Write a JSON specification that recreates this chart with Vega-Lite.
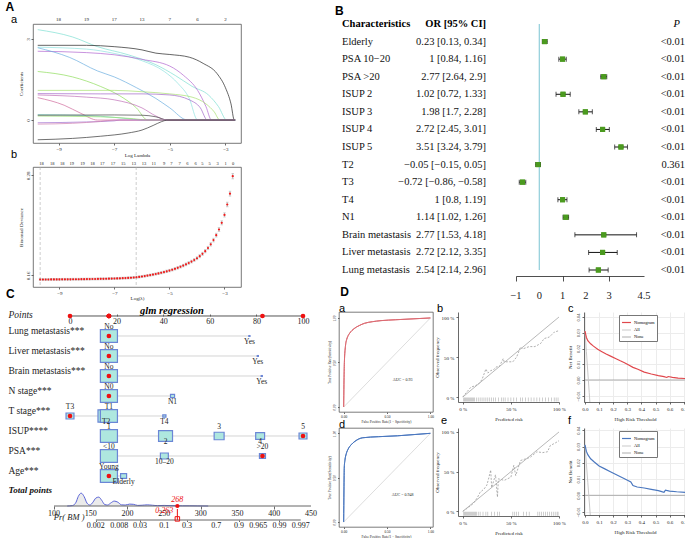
{
"$schema": "https://vega.github.io/schema/vega-lite/v6.json",
"background": "white",
"padding": {"left": 5, "top": 0, "right": 0, "bottom": 0},
"spacing": -17,
"resolve": {"scale": {"color": "independent", "size": "independent", "strokeWidth": "independent"}, "legend": {"color": "independent", "size": "independent", "strokeWidth": "independent"}},
"vconcat": [
{"hconcat": [
 {"vconcat": [
  {"width": 208, "height": 119,
   "view": {"stroke": "#555", "strokeWidth": 0.8},
   "title": {"text": "a", "frame": "group", "dx": -22, "offset": -7.5, "fontSize": 11, "fontWeight": "normal"},
   "layer": [
    {"data": {"name": "lasso"},
     "mark": {"type": "line", "strokeWidth": 0.7, "interpolate": "monotone"},
     "encoding": {
      "x": {"field": "ll", "type": "quantitative", "scale": {"domain": [-9.92, -2.44], "nice": false, "zero": false},
            "axis": {"values": [-9,-8,-7,-6,-5,-4,-3], "labelOverlap": false, "title": "Log Lambda", "labelFontSize": 5, "titleFontSize": 5, "tickSize": 2, "labelPadding": 1, "titlePadding": 1, "domain": false}},
      "y": {"field": "coef", "type": "quantitative", "scale": {"domain": [-0.85, 3.56], "nice": false, "zero": false},
            "axis": {"values": [0,1,2,3], "labelOverlap": false, "title": "Coefficients", "labelFontSize": 5, "titleFontSize": 5, "tickSize": 2, "labelPadding": 1, "titlePadding": 2, "labelAngle": -90, "labelAlign": "center", "labelBaseline": "bottom", "domain": false}},
      "color": {"field": "v", "type": "nominal", "legend": null,
                "scale": {"domain": ["V1","V2","V3","V4","V5","V6","V7","V8","V9","V10","V11","V12","V13","V14","V15","V16"],
                          "range": ["#7ee0d2","#222222","#8fe3e0","#b064d0","#6aaee0","#8edc5a","#a8e070","#a066c8","#c070b8","#d06a9c","#70d0c0","#98e070","#444444","#a070d0","#d080b0","#333333"]}}
     }},
    {"data": {"name": "dfA"},
     "mark": {"type": "text", "baseline": "bottom", "dy": -2, "fontSize": 5, "color": "#222"},
     "encoding": {"x": {"field": "ll", "type": "quantitative"}, "y": {"datum": 3.56}, "text": {"field": "df", "type": "nominal"}}}
   ]},
  {"width": 208, "height": 120,
   "view": {"stroke": "#555", "strokeWidth": 0.8},
   "title": {"text": "b", "frame": "group", "dx": -22, "offset": 1, "fontSize": 11, "fontWeight": "normal"},
   "layer": [
    {"data": {"name": "cv"},
     "mark": {"type": "errorbar", "color": "#bdbdbd", "ticks": {"size": 2.5}},
     "encoding": {
      "x": {"field": "ll", "type": "quantitative", "scale": {"domain": [-9.96, -2.4], "nice": false, "zero": false},
            "axis": {"values": [-9,-8,-7,-6,-5,-4,-3], "labelOverlap": false, "title": "Log(λ)", "labelFontSize": 5, "titleFontSize": 5, "tickSize": 2, "labelPadding": 1, "titlePadding": 0, "domain": false}},
      "y": {"field": "dev", "type": "quantitative", "scale": {"domain": [0.146, 0.29], "nice": false, "zero": false},
            "axis": {"values": [0.16,0.18,0.2,0.22,0.24,0.26,0.28], "labelOverlap": false, "format": ".2f", "title": "Binomial Deviance", "labelFontSize": 5, "titleFontSize": 5, "tickSize": 2, "labelPadding": 1, "titlePadding": 2, "labelAngle": -90, "labelAlign": "center", "labelBaseline": "bottom", "domain": false}},
      "yError": {"field": "se"}}},
    {"data": {"name": "lam"},
     "mark": {"type": "rule", "color": "#aaaaaa", "strokeWidth": 0.6, "strokeDash": [3, 2]},
     "encoding": {"x": {"field": "ll", "type": "quantitative"}}},
    {"data": {"name": "cv"},
     "mark": {"type": "point", "filled": true, "size": 5, "color": "#ee1c1c", "opacity": 1},
     "encoding": {"x": {"field": "ll", "type": "quantitative"}, "y": {"field": "dev", "type": "quantitative"}}},
    {"data": {"name": "dfB"},
     "mark": {"type": "text", "baseline": "bottom", "dy": -1.5, "fontSize": 4.5, "color": "#222"},
     "encoding": {"x": {"field": "ll", "type": "quantitative"}, "y": {"datum": 0.29}, "text": {"field": "df", "type": "nominal"}}}
   ]}
 ], "spacing": 24, "bounds": "flush", "title": {"text": "A", "dx": -5, "offset": -0.5, "fontSize": 12},
 "resolve": {"scale": {"color": "independent"}, "legend": {"color": "independent"}}},
 {"hconcat": [
  {"width": 144, "height": 246,
   "layer": [
    {"data": {"name": "forest"},
     "mark": {"type": "text", "align": "left", "fontSize": 10.5, "color": "#111"},
     "encoding": {
      "x": {"datum": "Characteristics", "type": "nominal", "scale": {"type": "point", "domain": ["Characteristics", "OR [95% CI]"], "padding": 0}, "axis": null},
      "y": {"field": "char", "type": "nominal", "scale": {"type": "point", "padding": 0, "domain": ["header","Elderly","PSA 10−20","PSA >20","ISUP 2","ISUP 3","ISUP 4","ISUP 5","T2","T3","T4","N1","Brain metastasis","Liver metastasis","Lung metastasis"]}, "axis": null},
      "text": {"field": "char"}}},
    {"data": {"name": "forest"},
     "mark": {"type": "text", "align": "right", "fontSize": 10.5, "color": "#111"},
     "encoding": {"x": {"datum": "OR [95% CI]", "type": "nominal"}, "y": {"field": "char", "type": "nominal"}, "text": {"field": "ci"}}},
    {"data": {"values": [{}]},
     "mark": {"type": "text", "align": "left", "fontSize": 10.5, "fontWeight": "bold", "text": "Characteristics", "color": "#000"},
     "encoding": {"x": {"datum": "Characteristics", "type": "nominal"}, "y": {"datum": "header", "type": "nominal"}}},
    {"data": {"values": [{}]},
     "mark": {"type": "text", "align": "right", "fontSize": 10.5, "fontWeight": "bold", "text": "OR [95% CI]", "color": "#000"},
     "encoding": {"x": {"datum": "OR [95% CI]", "type": "nominal"}, "y": {"datum": "header", "type": "nominal"}}}
   ]},
  {"width": 128, "height": 246,
   "layer": [
    {"data": {"name": "forest"},
     "mark": {"type": "point", "shape": "square", "filled": true, "size": 26, "color": "#4b9a1f", "opacity": 1},
     "encoding": {"x": {"field": "or", "type": "quantitative", "scale": {"domain": [-1, 4.5], "nice": false, "zero": false},
       "axis": {"values": [-1,0,1,2,3,4.5], "labels": false, "title": null, "tickSize": 5, "offset": 6, "domainColor": "#222", "tickColor": "#222"}},
      "y": {"field": "char", "type": "nominal", "scale": {"type": "point", "padding": 0, "domain": ["header","Elderly","PSA 10−20","PSA >20","ISUP 2","ISUP 3","ISUP 4","ISUP 5","T2","T3","T4","N1","Brain metastasis","Liver metastasis","Lung metastasis"]}, "axis": null}}},
    {"data": {"values": [{}]},
     "mark": {"type": "rule", "color": "#86c8d6", "strokeWidth": 1.1},
     "encoding": {"x": {"datum": 0, "type": "quantitative"}}},
    {"data": {"name": "forest"},
     "mark": {"type": "rule", "color": "#111", "strokeWidth": 1},
     "encoding": {"x": {"field": "lo", "type": "quantitative"}, "x2": {"field": "hi"}, "y": {"field": "char", "type": "nominal"}}},
    {"data": {"name": "forest"},
     "mark": {"type": "tick", "orient": "vertical", "color": "#111", "size": 5, "thickness": 1},
     "encoding": {"x": {"field": "lo", "type": "quantitative"}, "y": {"field": "char", "type": "nominal"}}},
    {"data": {"name": "forest"},
     "mark": {"type": "tick", "orient": "vertical", "color": "#111", "size": 5, "thickness": 1},
     "encoding": {"x": {"field": "hi", "type": "quantitative"}, "y": {"field": "char", "type": "nominal"}}},
    {"data": {"name": "forest"},
     "mark": {"type": "point", "shape": "square", "filled": true, "size": 26, "color": "#4b9a1f", "opacity": 1},
     "encoding": {"x": {"field": "or", "type": "quantitative"}, "y": {"field": "char", "type": "nominal"}}},
    {"data": {"name": "fticks"},
     "mark": {"type": "text", "baseline": "middle", "dy": 26, "fontSize": 10.5, "color": "#222"},
     "encoding": {"x": {"field": "v", "type": "quantitative"}, "y": {"datum": "Lung metastasis", "type": "nominal"}, "text": {"field": "label"}}}
   ]},
  {"width": 11, "height": 246,
   "layer": [
    {"data": {"name": "forest"},
     "mark": {"type": "text", "align": "right", "fontSize": 10.5, "color": "#111"},
     "encoding": {
      "x": {"datum": "P", "type": "nominal", "scale": {"type": "point", "domain": ["P"], "padding": 0, "align": 1}, "axis": null},
      "y": {"field": "char", "type": "nominal", "scale": {"type": "point", "padding": 0, "domain": ["header","Elderly","PSA 10−20","PSA >20","ISUP 2","ISUP 3","ISUP 4","ISUP 5","T2","T3","T4","N1","Brain metastasis","Liver metastasis","Lung metastasis"]}, "axis": null},
      "text": {"field": "p"}}},
    {"data": {"values": [{}]},
     "mark": {"type": "text", "align": "right", "fontSize": 10.5, "fontStyle": "italic", "text": "P", "dx": -5, "color": "#000"},
     "encoding": {"x": {"datum": "P", "type": "nominal"}, "y": {"datum": "header", "type": "nominal"}}}
   ]}
 ], "spacing": 30, "bounds": "flush", "title": {"text": "B", "dx": -7, "offset": 1.5, "fontSize": 12}}
], "spacing": 93,
 "resolve": {"scale": {"color": "independent"}, "legend": {"color": "independent"}}},
{"hconcat": [
 {"vconcat": [
  {"width": 278, "height": 174,
   "title": {"text": "glm regression", "anchor": "middle", "frame": "group", "font": "Liberation Serif", "fontStyle": "italic", "fontWeight": "bold", "fontSize": 10.5, "offset": -7},
   "layer": [
    {"data": {"name": "nomo"},
     "transform": [{"aggregate": [{"op": "min", "field": "pts", "as": "lo"}, {"op": "max", "field": "pts", "as": "hi"}], "groupby": ["var"]}],
     "mark": {"type": "rule", "color": "#d4d4d4", "strokeWidth": 1},
     "encoding": {
      "x": {"field": "lo", "type": "quantitative", "scale": {"domain": [-15.88, 103.43], "nice": false, "zero": false},
            "axis": {"orient": "top", "values": [0,20,40,60,80,100], "labelOverlap": false, "offset": -4, "domain": false, "tickSize": 2, "labelBaseline": "top", "labelPadding": -3, "labelFontSize": 8, "title": null}},
      "x2": {"field": "hi"},
      "y": {"field": "var", "type": "nominal",
            "scale": {"type": "point", "padding": 0.35, "align": 0.2857, "domain": ["Points","Lung metastasis***","Liver metastasis***","Brain metastasis***","N stage***","T stage***","ISUP****","PSA***","Age***"]},
            "axis": {"title": null, "domain": false, "ticks": false, "tickSize": 0, "labelOverlap": false, "labelAlign": "left", "labelPadding": 25, "labelFontSize": 9.5, "labelBaseline": "middle", "labelColor": "#222",
                     "labelOffset": {"condition": {"test": "datum.value === 'Points'", "value": -1}, "value": -5},
                     "labelFontStyle": {"condition": {"test": "datum.value === 'Points'", "value": "italic"}, "value": "normal"}}}}},
    {"data": {"values": [{}]},
     "mark": {"type": "rule", "color": "#555", "strokeWidth": 1},
     "encoding": {"x": {"datum": 0, "type": "quantitative"}, "x2": {"datum": 100}, "y": {"datum": "Points", "type": "nominal"}}},
    {"data": {"name": "nomo"},
     "mark": {"type": "point", "shape": "M-1.15,-0.87H1.15V0.87H-1.15Z", "filled": true, "fill": "#aee7df", "stroke": "#6b86d6", "strokeWidth": 1.2, "opacity": 1},
     "encoding": {"x": {"field": "pts", "type": "quantitative"}, "y": {"field": "var", "type": "nominal"},
      "size": {"field": "freq", "type": "quantitative", "scale": {"domain": [0, 1], "range": [0, 250]}, "legend": null}}},
    {"data": {"name": "nomo"}, "transform": [{"filter": "datum.sel"}],
     "mark": {"type": "point", "filled": true, "color": "#ee1111", "size": 22, "opacity": 1},
     "encoding": {"x": {"field": "pts", "type": "quantitative"}, "y": {"field": "var", "type": "nominal"}}},
    {"data": {"name": "nomo"}, "transform": [{"filter": "datum.sel"}],
     "mark": {"type": "point", "filled": true, "color": "#ee1111", "size": 22, "opacity": 1},
     "encoding": {"x": {"field": "pts", "type": "quantitative"}, "y": {"datum": "Points", "type": "nominal"}}},
    {"data": {"name": "nomo"}, "transform": [{"filter": "datum.side === 'above'"}],
     "mark": {"type": "text", "baseline": "middle", "dy": -9, "fontSize": 7.5, "color": "#222"},
     "encoding": {"x": {"field": "pts", "type": "quantitative"}, "y": {"field": "var", "type": "nominal"}, "text": {"field": "level"}}},
    {"data": {"name": "nomo"}, "transform": [{"filter": "datum.side === 'below'"}],
     "mark": {"type": "text", "baseline": "middle", "dy": 6, "fontSize": 7.5, "color": "#222"},
     "encoding": {"x": {"field": "pts", "type": "quantitative"}, "y": {"field": "var", "type": "nominal"}, "text": {"field": "level"}}}
   ]},
  {"width": 278, "height": 17,
   "layer": [
    {"data": {"name": "dens"},
     "mark": {"type": "area", "color": "#e3e3e3", "interpolate": "monotone", "line": {"color": "#5a64d8", "strokeWidth": 1}},
     "encoding": {
      "x": {"field": "total", "type": "quantitative", "scale": {"domain": [71.4, 450], "nice": false, "zero": false},
            "axis": {"values": [100,150,200,250,300,350,400,450], "labels": false, "title": null, "tickSize": 3, "domain": false}},
      "y": {"field": "dens", "type": "quantitative", "scale": {"domain": [0, 0.9], "nice": false},
            "axis": {"values": [0.9], "labelExpr": "'Total points'", "title": null, "domain": false, "ticks": false, "tickSize": 0, "labelAlign": "left", "labelPadding": 25, "labelFontSize": 9, "labelFontWeight": "bold", "labelFontStyle": "italic", "labelBaseline": "middle", "labelColor": "#111"}}}},
    {"data": {"values": [{}]},
     "mark": {"type": "rule", "color": "#666", "strokeWidth": 1},
     "encoding": {"x": {"datum": 100, "type": "quantitative"}, "x2": {"datum": 450}, "y": {"datum": 0, "type": "quantitative"}}},
    {"data": {"name": "tticks"},
     "mark": {"type": "text", "baseline": "top", "dy": 3.5, "fontSize": 8, "color": "#222"},
     "encoding": {"x": {"field": "total", "type": "quantitative"}, "y": {"datum": 0, "type": "quantitative"}, "text": {"field": "total", "type": "nominal"}}},
    {"data": {"name": "pred"},
     "mark": {"type": "point", "filled": true, "color": "#ee1111", "size": 18, "opacity": 1},
     "encoding": {"x": {"field": "total", "type": "quantitative"}, "y": {"datum": 0}}},
    {"data": {"name": "pred"},
     "mark": {"type": "text", "color": "#ee1111", "fontStyle": "italic", "fontSize": 8, "baseline": "bottom", "dy": -2},
     "encoding": {"x": {"field": "total", "type": "quantitative"}, "y": {"datum": 0}, "text": {"field": "total", "type": "nominal"}}}
   ]},
  {"width": 278, "height": 11,
   "layer": [
    {"data": {"values": [{}]},
     "mark": {"type": "rule", "color": "#666", "strokeWidth": 1},
     "encoding": {
      "x": {"datum": 157, "type": "quantitative", "scale": {"domain": [71.4, 450], "nice": false, "zero": false},
            "axis": {"values": [157,189,217,250,281,321,352,378,407,436], "labels": false, "title": null, "domain": false, "tickSize": 1.5}},
      "x2": {"datum": 436},
      "y": {"datum": 0, "type": "quantitative", "scale": {"domain": [0, 1], "nice": false},
            "axis": {"values": [0], "labelExpr": "'Pr( BM )'", "title": null, "domain": false, "ticks": false, "tickSize": 0, "labelAlign": "right", "labelPadding": -51, "labelFontSize": 8.5, "labelFontStyle": "italic", "labelBaseline": "middle", "labelOffset": -4, "labelColor": "#222"}}}},
    {"data": {"name": "pticks"},
     "mark": {"type": "text", "baseline": "top", "dy": 1.5, "fontSize": 8, "color": "#222"},
     "encoding": {"x": {"field": "total", "type": "quantitative"}, "y": {"datum": 0, "type": "quantitative"}, "text": {"field": "label"}}},
    {"data": {"name": "pred"},
     "mark": {"type": "rule", "color": "#ee1111", "strokeWidth": 1},
     "encoding": {"x": {"field": "total", "type": "quantitative"}}},
    {"data": {"name": "pred"},
     "mark": {"type": "point", "shape": "square", "filled": false, "color": "#ee1111", "size": 20, "strokeWidth": 1, "opacity": 1},
     "encoding": {"x": {"field": "total", "type": "quantitative"}, "y": {"datum": 0.1}}},
    {"data": {"name": "pred"},
     "mark": {"type": "text", "color": "#ee1111", "fontStyle": "italic", "fontSize": 8, "align": "right", "dx": -4, "baseline": "middle"},
     "encoding": {"x": {"field": "total", "type": "quantitative"}, "y": {"datum": 0.85}, "text": {"field": "prob", "type": "nominal"}}}
   ]}
 ], "spacing": 3, "bounds": "flush", "title": {"text": "C", "dx": -2, "offset": 5, "fontSize": 12},
 "resolve": {"scale": {"size": "independent"}, "legend": {"size": "independent"}}},
 {"concat": [
  {"width": 94, "height": 100,
   "view": {"stroke": "#444", "strokeWidth": 0.7},
   "title": {"text": "a", "frame": "group", "fontSize": 11, "fontWeight": "normal", "dx": 0, "offset": -2},
   "layer": [
    {"data": {"name": "roc"}, "transform": [{"filter": "datum.set === 'train'"}],
     "mark": {"type": "line", "color": "#dc6a72", "strokeWidth": 1, "interpolate": "monotone"},
     "encoding": {
      "x": {"field": "fpr", "type": "quantitative", "scale": {"domain": [-0.054, 1.03], "nice": false, "zero": false},
            "axis": {"values": [0,0.25,0.5,0.75,1], "labelOverlap": false, "format": ".2f", "title": "False Positive Rate(1 − Specificity)", "labelFontSize": 3.5, "titleFontSize": 3.5, "tickSize": 1.5, "labelPadding": 1, "titlePadding": 1, "domain": false}},
      "y": {"field": "tpr", "type": "quantitative", "scale": {"domain": [-0.056, 1.067], "nice": false, "zero": false},
            "axis": {"values": [0,0.25,0.5,0.75,1], "labelOverlap": false, "format": ".2f", "title": "True Positive Rate(Sensitivity)", "labelFontSize": 3.5, "titleFontSize": 3.5, "tickSize": 1.5, "labelPadding": 1, "titlePadding": 1, "domain": false, "labelAngle": -90, "labelAlign": "center", "labelBaseline": "bottom"}}}},
    {"data": {"values": [{}]},
     "mark": {"type": "rule", "color": "#cfcfcf", "strokeWidth": 0.7},
     "encoding": {"x": {"datum": 0, "type": "quantitative"}, "y": {"datum": 0, "type": "quantitative"}, "x2": {"datum": 1}, "y2": {"datum": 1}}},
    {"data": {"name": "roc"}, "transform": [{"filter": "datum.set === 'train'"}],
     "mark": {"type": "line", "color": "#dc6a72", "strokeWidth": 1, "interpolate": "monotone"},
     "encoding": {"x": {"field": "fpr", "type": "quantitative"}, "y": {"field": "tpr", "type": "quantitative"}}},
    {"data": {"name": "auc"}, "transform": [{"filter": "datum.set === 'train'"}],
     "mark": {"type": "text", "fontSize": 4, "color": "#222"},
     "encoding": {"x": {"datum": 0.68}, "y": {"datum": 0.3}, "text": {"field": "label"}}}
   ]},
  {"width": 101, "height": 90,
   "title": {"text": "b", "frame": "group", "fontSize": 11, "fontWeight": "normal", "dx": -21, "offset": -2},
   "layer": [
    {"data": {"name": "cal"}, "transform": [{"filter": "datum.set === 'train'"}],
     "mark": {"type": "line", "color": "#9a9a9a", "strokeWidth": 0.8, "strokeDash": [2, 1.5]},
     "encoding": {
      "x": {"field": "pred", "type": "quantitative", "scale": {"domain": [-0.05, 1], "nice": false, "zero": false},
            "axis": {"values": [0,0.25,0.5,0.75,1], "labelOverlap": false, "labelExpr": "format(datum.value*100, 'd') + ' %'", "title": "Predicted risk", "labelFontSize": 5, "titleFontSize": 5, "tickSize": 2, "labelPadding": 2, "titlePadding": 5}},
      "y": {"field": "obs", "type": "quantitative", "scale": {"domain": [-0.0625, 1.0625], "nice": false, "zero": false},
            "axis": {"values": [0,0.25,0.5,0.75,1], "labelOverlap": false, "labelExpr": "format(datum.value*100, 'd') + ' %'", "title": "Observed frequency", "labelFontSize": 5, "titleFontSize": 5, "tickSize": 2, "labelPadding": 2, "titlePadding": 2}}}},
    {"data": {"values": [{}]},
     "mark": {"type": "rule", "color": "#a6a6a6", "strokeWidth": 0.8},
     "encoding": {"x": {"datum": 0, "type": "quantitative"}, "y": {"datum": 0, "type": "quantitative"}, "x2": {"datum": 1}, "y2": {"datum": 1}}},
    {"data": {"name": "rug"}, "transform": [{"filter": "datum.set === 'train'"}],
     "mark": {"type": "tick", "orient": "vertical", "color": "#8a8a8a", "size": 4, "thickness": 0.6},
     "encoding": {"x": {"field": "pred", "type": "quantitative"}, "y": {"datum": -0.03}}}
   ]},
  {"width": 102, "height": 90,
   "title": {"text": "c", "frame": "group", "fontSize": 11, "fontWeight": "normal", "dx": -16, "offset": -2},
   "layer": [
    {"data": {"name": "dca"}, "transform": [{"filter": "datum.set === 'train'"}],
     "mark": {"type": "line", "clip": true},
     "encoding": {
      "x": {"field": "thr", "type": "quantitative", "scale": {"domain": [-0.007, 0.716], "nice": false, "zero": false},
            "axis": {"values": [0,0.1,0.2,0.3,0.4,0.5,0.6,0.7], "labelOverlap": false, "format": ".1f", "title": "High Risk Threshold", "labelFontSize": 5, "titleFontSize": 5, "tickSize": 2, "labelPadding": 2, "titlePadding": 5, "grid": true, "gridColor": "#ececec"}},
      "y": {"field": "nb", "type": "quantitative", "scale": {"domain": [-0.014, 0.0432], "nice": false, "zero": false},
            "axis": {"values": [-0.01,0,0.01,0.02,0.03,0.04], "labelOverlap": false, "format": ".2f", "title": "Net Benefit", "labelFontSize": 4.5, "titleFontSize": 5, "tickSize": 2, "labelPadding": 2, "titlePadding": 3, "labelAngle": -90, "labelAlign": "center", "labelBaseline": "bottom", "grid": true, "gridColor": "#ececec"}},
      "color": {"field": "curve", "type": "nominal", "scale": {"domain": ["Nomogram","All","None"], "range": ["#e0474c","#c9c9c9","#9a9a9a"]},
                "legend": {"title": null, "orient": "none", "legendX": 35, "legendY": 3, "labelFontSize": 4.5, "symbolType": "stroke", "symbolSize": 80, "symbolStrokeWidth": 1, "strokeColor": "#777", "fillColor": "#fff", "padding": 2, "rowPadding": 0, "labelOffset": 2}},
      "strokeWidth": {"field": "curve", "type": "nominal", "scale": {"domain": ["Nomogram","All","None"], "range": [1.2, 0.8, 1.5]}, "legend": null}
     }}
   ]},
  {"width": 94, "height": 99,
   "view": {"stroke": "#444", "strokeWidth": 0.7},
   "title": {"text": "d", "frame": "group", "fontSize": 11, "fontWeight": "normal", "dx": 0, "offset": -2},
   "layer": [
    {"data": {"name": "roc"}, "transform": [{"filter": "datum.set === 'valid'"}],
     "mark": {"type": "line", "color": "#4a77bf", "strokeWidth": 1, "interpolate": "monotone"},
     "encoding": {
      "x": {"field": "fpr", "type": "quantitative", "scale": {"domain": [-0.054, 1.03], "nice": false, "zero": false},
            "axis": {"values": [0,0.25,0.5,0.75,1], "labelOverlap": false, "format": ".2f", "title": "False Positive Rate(1 − Specificity)", "labelFontSize": 3.5, "titleFontSize": 3.5, "tickSize": 1.5, "labelPadding": 1, "titlePadding": 1, "domain": false}},
      "y": {"field": "tpr", "type": "quantitative", "scale": {"domain": [-0.056, 1.06], "nice": false, "zero": false},
            "axis": {"values": [0,0.25,0.5,0.75,1], "labelOverlap": false, "format": ".2f", "title": "True Positive Rate(Sensitivity)", "labelFontSize": 3.5, "titleFontSize": 3.5, "tickSize": 1.5, "labelPadding": 1, "titlePadding": 1, "domain": false, "labelAngle": -90, "labelAlign": "center", "labelBaseline": "bottom"}}}},
    {"data": {"values": [{}]},
     "mark": {"type": "rule", "color": "#cfcfcf", "strokeWidth": 0.7},
     "encoding": {"x": {"datum": 0, "type": "quantitative"}, "y": {"datum": 0, "type": "quantitative"}, "x2": {"datum": 1}, "y2": {"datum": 1}}},
    {"data": {"name": "roc"}, "transform": [{"filter": "datum.set === 'valid'"}],
     "mark": {"type": "line", "color": "#4a77bf", "strokeWidth": 1, "interpolate": "monotone"},
     "encoding": {"x": {"field": "fpr", "type": "quantitative"}, "y": {"field": "tpr", "type": "quantitative"}}},
    {"data": {"name": "auc"}, "transform": [{"filter": "datum.set === 'valid'"}],
     "mark": {"type": "text", "fontSize": 4, "color": "#222"},
     "encoding": {"x": {"datum": 0.68}, "y": {"datum": 0.3}, "text": {"field": "label"}}}
   ]},
  {"width": 101, "height": 88,
   "title": {"text": "e", "frame": "group", "fontSize": 11, "fontWeight": "normal", "dx": -17, "offset": 2},
   "layer": [
    {"data": {"name": "cal"}, "transform": [{"filter": "datum.set === 'valid'"}],
     "mark": {"type": "line", "color": "#9a9a9a", "strokeWidth": 0.8, "strokeDash": [2, 1.5]},
     "encoding": {
      "x": {"field": "pred", "type": "quantitative", "scale": {"domain": [-0.05, 1], "nice": false, "zero": false},
            "axis": {"values": [0,0.25,0.5,0.75,1], "labelOverlap": false, "labelExpr": "format(datum.value*100, 'd') + ' %'", "title": "Predicted risk", "labelFontSize": 5, "titleFontSize": 5, "tickSize": 2, "labelPadding": 2, "titlePadding": 5}},
      "y": {"field": "obs", "type": "quantitative", "scale": {"domain": [-0.059, 1.05], "nice": false, "zero": false},
            "axis": {"values": [0,0.25,0.5,0.75,1], "labelOverlap": false, "labelExpr": "format(datum.value*100, 'd') + ' %'", "title": "Observed frequency", "labelFontSize": 5, "titleFontSize": 5, "tickSize": 2, "labelPadding": 2, "titlePadding": 2}}}},
    {"data": {"values": [{}]},
     "mark": {"type": "rule", "color": "#a6a6a6", "strokeWidth": 0.8},
     "encoding": {"x": {"datum": 0, "type": "quantitative"}, "y": {"datum": 0, "type": "quantitative"}, "x2": {"datum": 1}, "y2": {"datum": 1}}},
    {"data": {"name": "rug"}, "transform": [{"filter": "datum.set === 'valid'"}],
     "mark": {"type": "tick", "orient": "vertical", "color": "#8a8a8a", "size": 4, "thickness": 0.6},
     "encoding": {"x": {"field": "pred", "type": "quantitative"}, "y": {"datum": -0.03}}}
   ]},
  {"width": 102, "height": 87,
   "title": {"text": "f", "frame": "group", "fontSize": 11, "fontWeight": "normal", "dx": -16, "offset": 0},
   "layer": [
    {"data": {"name": "dca"}, "transform": [{"filter": "datum.set === 'valid'"}],
     "mark": {"type": "line", "clip": true},
     "encoding": {
      "x": {"field": "thr", "type": "quantitative", "scale": {"domain": [-0.007, 0.716], "nice": false, "zero": false},
            "axis": {"values": [0,0.1,0.2,0.3,0.4,0.5,0.6,0.7], "labelOverlap": false, "format": ".1f", "title": "High Risk Threshold", "labelFontSize": 5, "titleFontSize": 5, "tickSize": 2, "labelPadding": 2, "titlePadding": 5, "grid": true, "gridColor": "#ececec"}},
      "y": {"field": "nb", "type": "quantitative", "scale": {"domain": [-0.0121, 0.0414], "nice": false, "zero": false},
            "axis": {"values": [-0.01,0,0.01,0.02,0.03,0.04], "labelOverlap": false, "format": ".2f", "title": "Net Benefit", "labelFontSize": 4.5, "titleFontSize": 5, "tickSize": 2, "labelPadding": 2, "titlePadding": 3, "labelAngle": -90, "labelAlign": "center", "labelBaseline": "bottom", "grid": true, "gridColor": "#ececec"}},
      "color": {"field": "curve", "type": "nominal", "scale": {"domain": ["Nomogram","All","None"], "range": ["#4a77bf","#c9c9c9","#9a9a9a"]},
                "legend": {"title": null, "orient": "none", "legendX": 35, "legendY": 3, "labelFontSize": 4.5, "symbolType": "stroke", "symbolSize": 80, "symbolStrokeWidth": 1, "strokeColor": "#777", "fillColor": "#fff", "padding": 2, "rowPadding": 0, "labelOffset": 2}},
      "strokeWidth": {"field": "curve", "type": "nominal", "scale": {"domain": ["Nomogram","All","None"], "range": [1.2, 0.8, 1.5]}, "legend": null}
     }}
   ]}
 ], "columns": 3, "bounds": "flush", "align": "each", "spacing": {"row": 16, "column": 25}, "title": {"text": "D", "dx": 13, "offset": 4, "fontSize": 12},
 "resolve": {"scale": {"color": "independent", "strokeWidth": "independent"}, "legend": {"color": "independent", "strokeWidth": "independent"}}}
], "spacing": 10,
 "resolve": {"scale": {"color": "independent", "size": "independent", "strokeWidth": "independent"}, "legend": {"color": "independent", "size": "independent", "strokeWidth": "independent"}}}
],
"datasets": {
 "lasso": [
  {"v":"V1","ll":-9.75,"coef":3.35},{"v":"V1","ll":-8.5,"coef":3.08},{"v":"V1","ll":-7.6,"coef":2.72},{"v":"V1","ll":-6.5,"coef":2.42},{"v":"V1","ll":-5.5,"coef":2.05},{"v":"V1","ll":-4.8,"coef":1.65},{"v":"V1","ll":-4.2,"coef":1.25},{"v":"V1","ll":-3.6,"coef":0.92},{"v":"V1","ll":-3.25,"coef":0.5},{"v":"V1","ll":-2.95,"coef":0},{"v":"V1","ll":-2.65,"coef":0},
  {"v":"V2","ll":-9.75,"coef":2.77},{"v":"V2","ll":-8,"coef":2.77},{"v":"V2","ll":-7,"coef":2.72},{"v":"V2","ll":-6,"coef":2.6},{"v":"V2","ll":-5.5,"coef":2.48},{"v":"V2","ll":-5,"coef":2.43},{"v":"V2","ll":-4.3,"coef":2.33},{"v":"V2","ll":-3.8,"coef":2.1},{"v":"V2","ll":-3.3,"coef":1.72},{"v":"V2","ll":-3,"coef":1.2},{"v":"V2","ll":-2.8,"coef":0.6},{"v":"V2","ll":-2.68,"coef":0},{"v":"V2","ll":-2.65,"coef":0},
  {"v":"V3","ll":-9.75,"coef":2.7},{"v":"V3","ll":-8,"coef":2.63},{"v":"V3","ll":-7,"coef":2.47},{"v":"V3","ll":-6,"coef":2.2},{"v":"V3","ll":-5.2,"coef":1.8},{"v":"V3","ll":-4.7,"coef":1.35},{"v":"V3","ll":-4.3,"coef":0.8},{"v":"V3","ll":-4,"coef":0},{"v":"V3","ll":-2.65,"coef":0},
  {"v":"V4","ll":-9.75,"coef":2.55},{"v":"V4","ll":-8,"coef":2.5},{"v":"V4","ll":-7,"coef":2.42},{"v":"V4","ll":-6,"coef":2.25},{"v":"V4","ll":-5,"coef":2.0},{"v":"V4","ll":-4.5,"coef":1.65},{"v":"V4","ll":-4,"coef":1.1},{"v":"V4","ll":-3.7,"coef":0.5},{"v":"V4","ll":-3.5,"coef":0},{"v":"V4","ll":-2.65,"coef":0},
  {"v":"V5","ll":-9.75,"coef":2.68},{"v":"V5","ll":-8.6,"coef":2.32},{"v":"V5","ll":-7.6,"coef":1.82},{"v":"V5","ll":-7,"coef":1.6},{"v":"V5","ll":-6.2,"coef":1.2},{"v":"V5","ll":-5.5,"coef":0.8},{"v":"V5","ll":-5,"coef":0.45},{"v":"V5","ll":-4.36,"coef":0},{"v":"V5","ll":-2.65,"coef":0},
  {"v":"V6","ll":-9.75,"coef":1.8},{"v":"V6","ll":-8.5,"coef":1.6},{"v":"V6","ll":-7.5,"coef":1.25},{"v":"V6","ll":-6.8,"coef":0.9},{"v":"V6","ll":-6.2,"coef":0.45},{"v":"V6","ll":-5.8,"coef":0},{"v":"V6","ll":-2.65,"coef":0},
  {"v":"V7","ll":-9.75,"coef":1.1},{"v":"V7","ll":-7,"coef":1.1},{"v":"V7","ll":-6,"coef":1.05},{"v":"V7","ll":-5,"coef":0.97},{"v":"V7","ll":-4.2,"coef":0.85},{"v":"V7","ll":-3.7,"coef":0.6},{"v":"V7","ll":-3.4,"coef":0.3},{"v":"V7","ll":-3.2,"coef":0},{"v":"V7","ll":-2.65,"coef":0},
  {"v":"V8","ll":-9.75,"coef":0.98},{"v":"V8","ll":-7.5,"coef":0.97},{"v":"V8","ll":-6,"coef":0.97},{"v":"V8","ll":-5,"coef":0.93},{"v":"V8","ll":-4.3,"coef":0.75},{"v":"V8","ll":-3.9,"coef":0.45},{"v":"V8","ll":-3.65,"coef":0},{"v":"V8","ll":-2.65,"coef":0},
  {"v":"V9","ll":-9.75,"coef":0.93},{"v":"V9","ll":-8,"coef":0.85},{"v":"V9","ll":-7,"coef":0.75},{"v":"V9","ll":-6,"coef":0.45},{"v":"V9","ll":-5.5,"coef":0.15},{"v":"V9","ll":-5.1,"coef":0},{"v":"V9","ll":-2.65,"coef":0},
  {"v":"V10","ll":-9.75,"coef":0.83},{"v":"V10","ll":-8.8,"coef":0.55},{"v":"V10","ll":-8.2,"coef":0.25},{"v":"V10","ll":-7.6,"coef":0},{"v":"V10","ll":-2.65,"coef":0},
  {"v":"V11","ll":-9.75,"coef":0.2},{"v":"V11","ll":-8,"coef":0.17},{"v":"V11","ll":-7,"coef":0.1},{"v":"V11","ll":-6.3,"coef":0.03},{"v":"V11","ll":-6,"coef":0},{"v":"V11","ll":-2.65,"coef":0},
  {"v":"V12","ll":-9.75,"coef":0.15},{"v":"V12","ll":-7.5,"coef":0.12},{"v":"V12","ll":-6.3,"coef":0.05},{"v":"V12","ll":-5.8,"coef":0},{"v":"V12","ll":-2.65,"coef":0},
  {"v":"V13","ll":-9.75,"coef":0.18},{"v":"V13","ll":-7,"coef":0.19},{"v":"V13","ll":-6,"coef":0.18},{"v":"V13","ll":-5.5,"coef":0.12},{"v":"V13","ll":-5.07,"coef":0},{"v":"V13","ll":-2.65,"coef":0},
  {"v":"V14","ll":-9.75,"coef":-0.1},{"v":"V14","ll":-8,"coef":-0.07},{"v":"V14","ll":-7,"coef":-0.03},{"v":"V14","ll":-6.8,"coef":0},{"v":"V14","ll":-2.65,"coef":0},
  {"v":"V15","ll":-9.75,"coef":-0.15},{"v":"V15","ll":-8.5,"coef":-0.12},{"v":"V15","ll":-7.5,"coef":-0.05},{"v":"V15","ll":-7,"coef":0},{"v":"V15","ll":-2.65,"coef":0},
  {"v":"V16","ll":-9.75,"coef":-0.73},{"v":"V16","ll":-8.5,"coef":-0.68},{"v":"V16","ll":-7.5,"coef":-0.6},{"v":"V16","ll":-6.5,"coef":-0.48},{"v":"V16","ll":-6,"coef":-0.37},{"v":"V16","ll":-5.6,"coef":-0.2},{"v":"V16","ll":-5.3,"coef":-0.06},{"v":"V16","ll":-5.07,"coef":0},{"v":"V16","ll":-2.65,"coef":0}
 ],
 "dfA": [{"ll":-9,"df":18},{"ll":-8,"df":19},{"ll":-7,"df":17},{"ll":-6,"df":13},{"ll":-5,"df":7},{"ll":-4,"df":6},{"ll":-3,"df":2}],
 "lam": [{"which":"lambda.min","ll":-9.7},{"which":"lambda.1se","ll":-6.21}],
 "dfB": [{"ll":-9.65,"df":18},{"ll":-9.26,"df":18},{"ll":-8.9,"df":18},{"ll":-8.55,"df":19},{"ll":-8.16,"df":19},{"ll":-7.8,"df":18},{"ll":-7.44,"df":17},{"ll":-7.05,"df":17},{"ll":-6.68,"df":15},{"ll":-6.3,"df":13},{"ll":-5.93,"df":13},{"ll":-5.57,"df":11},{"ll":-5.19,"df":9},{"ll":-4.93,"df":7},{"ll":-4.63,"df":7},{"ll":-4.35,"df":6},{"ll":-4.05,"df":6},{"ll":-3.8,"df":5},{"ll":-3.54,"df":5},{"ll":-3.25,"df":3},{"ll":-2.96,"df":1},{"ll":-2.69,"df":0}],
 "cv": [
  {"ll":-9.7,"dev":0.1550,"se":0.0011},{"ll":-9.6,"dev":0.1550,"se":0.0011},{"ll":-9.5,"dev":0.1550,"se":0.0011},{"ll":-9.4,"dev":0.1550,"se":0.0011},{"ll":-9.3,"dev":0.1551,"se":0.0011},{"ll":-9.2,"dev":0.1551,"se":0.0011},{"ll":-9.1,"dev":0.1551,"se":0.0011},{"ll":-9.0,"dev":0.1551,"se":0.0011},{"ll":-8.9,"dev":0.1552,"se":0.0011},{"ll":-8.8,"dev":0.1552,"se":0.0011},
  {"ll":-8.7,"dev":0.1552,"se":0.0011},{"ll":-8.6,"dev":0.1552,"se":0.0011},{"ll":-8.5,"dev":0.1553,"se":0.0011},{"ll":-8.4,"dev":0.1553,"se":0.0011},{"ll":-8.3,"dev":0.1553,"se":0.0011},{"ll":-8.2,"dev":0.1554,"se":0.0011},{"ll":-8.1,"dev":0.1554,"se":0.0011},{"ll":-8.0,"dev":0.1555,"se":0.0011},{"ll":-7.9,"dev":0.1555,"se":0.0011},{"ll":-7.8,"dev":0.1556,"se":0.0011},
  {"ll":-7.7,"dev":0.1556,"se":0.0011},{"ll":-7.6,"dev":0.1557,"se":0.0011},{"ll":-7.5,"dev":0.1558,"se":0.0011},{"ll":-7.4,"dev":0.1558,"se":0.0011},{"ll":-7.3,"dev":0.1559,"se":0.0011},{"ll":-7.2,"dev":0.1560,"se":0.0011},{"ll":-7.1,"dev":0.1561,"se":0.0011},{"ll":-7.0,"dev":0.1562,"se":0.0011},{"ll":-6.9,"dev":0.1563,"se":0.0011},{"ll":-6.8,"dev":0.1564,"se":0.0011},
  {"ll":-6.7,"dev":0.1566,"se":0.0011},{"ll":-6.6,"dev":0.1567,"se":0.0011},{"ll":-6.5,"dev":0.1569,"se":0.0012},{"ll":-6.4,"dev":0.1571,"se":0.0012},{"ll":-6.3,"dev":0.1574,"se":0.0012},{"ll":-6.2,"dev":0.1577,"se":0.0012},{"ll":-6.1,"dev":0.1581,"se":0.0012},{"ll":-6.0,"dev":0.1586,"se":0.0012},{"ll":-5.9,"dev":0.1591,"se":0.0012},{"ll":-5.8,"dev":0.1597,"se":0.0012},
  {"ll":-5.7,"dev":0.1603,"se":0.0012},{"ll":-5.6,"dev":0.1609,"se":0.0013},{"ll":-5.5,"dev":0.1616,"se":0.0013},{"ll":-5.4,"dev":0.1623,"se":0.0013},{"ll":-5.3,"dev":0.1631,"se":0.0013},{"ll":-5.2,"dev":0.1639,"se":0.0013},{"ll":-5.1,"dev":0.1648,"se":0.0014},{"ll":-5.0,"dev":0.1657,"se":0.0014},{"ll":-4.9,"dev":0.1667,"se":0.0014},{"ll":-4.8,"dev":0.1678,"se":0.0014},
  {"ll":-4.7,"dev":0.1690,"se":0.0015},{"ll":-4.6,"dev":0.1703,"se":0.0015},{"ll":-4.5,"dev":0.1717,"se":0.0015},{"ll":-4.4,"dev":0.1732,"se":0.0016},{"ll":-4.3,"dev":0.1748,"se":0.0016},{"ll":-4.2,"dev":0.1765,"se":0.0016},{"ll":-4.1,"dev":0.1784,"se":0.0017},{"ll":-4.0,"dev":0.1805,"se":0.0017},{"ll":-3.9,"dev":0.1830,"se":0.0018},{"ll":-3.8,"dev":0.1858,"se":0.0018},
  {"ll":-3.7,"dev":0.1890,"se":0.0019},{"ll":-3.6,"dev":0.1928,"se":0.0019},{"ll":-3.5,"dev":0.1972,"se":0.0020},{"ll":-3.4,"dev":0.2023,"se":0.0021},{"ll":-3.3,"dev":0.2082,"se":0.0022},{"ll":-3.2,"dev":0.2150,"se":0.0023},{"ll":-3.1,"dev":0.2230,"se":0.0024},{"ll":-3.0,"dev":0.2325,"se":0.0025},{"ll":-2.9,"dev":0.2450,"se":0.0027},{"ll":-2.8,"dev":0.2580,"se":0.0029},
  {"ll":-2.7,"dev":0.2790,"se":0.0032}
 ],
 "forest": [
  {"char":"Elderly","or":0.23,"lo":0.13,"hi":0.34,"ci":"0.23 [0.13, 0.34]","p":"<0.01"},
  {"char":"PSA 10−20","or":1,"lo":0.84,"hi":1.16,"ci":"1 [0.84, 1.16]","p":"<0.01"},
  {"char":"PSA >20","or":2.77,"lo":2.64,"hi":2.9,"ci":"2.77 [2.64, 2.9]","p":"<0.01"},
  {"char":"ISUP 2","or":1.02,"lo":0.72,"hi":1.33,"ci":"1.02 [0.72, 1.33]","p":"<0.01"},
  {"char":"ISUP 3","or":1.98,"lo":1.7,"hi":2.28,"ci":"1.98 [1.7, 2.28]","p":"<0.01"},
  {"char":"ISUP 4","or":2.72,"lo":2.45,"hi":3.01,"ci":"2.72 [2.45, 3.01]","p":"<0.01"},
  {"char":"ISUP 5","or":3.51,"lo":3.24,"hi":3.79,"ci":"3.51 [3.24, 3.79]","p":"<0.01"},
  {"char":"T2","or":-0.05,"lo":-0.15,"hi":0.05,"ci":"−0.05 [−0.15, 0.05]","p":"0.361"},
  {"char":"T3","or":-0.72,"lo":-0.86,"hi":-0.58,"ci":"−0.72 [−0.86, −0.58]","p":"<0.01"},
  {"char":"T4","or":1,"lo":0.8,"hi":1.19,"ci":"1 [0.8, 1.19]","p":"<0.01"},
  {"char":"N1","or":1.14,"lo":1.02,"hi":1.26,"ci":"1.14 [1.02, 1.26]","p":"<0.01"},
  {"char":"Brain metastasis","or":2.77,"lo":1.53,"hi":4.18,"ci":"2.77 [1.53, 4.18]","p":"<0.01"},
  {"char":"Liver metastasis","or":2.72,"lo":2.12,"hi":3.35,"ci":"2.72 [2.12, 3.35]","p":"<0.01"},
  {"char":"Lung metastasis","or":2.54,"lo":2.14,"hi":2.96,"ci":"2.54 [2.14, 2.96]","p":"<0.01"}
 ],
 "fticks": [{"v":-1,"label":"−1"},{"v":0,"label":"0"},{"v":1,"label":"1"},{"v":2,"label":"2"},{"v":3,"label":"3"},{"v":4.5,"label":"4.5"}],
 "tticks": [{"total":100},{"total":150},{"total":200},{"total":250},{"total":300},{"total":350},{"total":400},{"total":450}],
 "pticks": [{"total":157,"label":"0.002"},{"total":189,"label":"0.008"},{"total":217,"label":"0.03"},{"total":250,"label":"0.1"},{"total":281,"label":"0.3"},{"total":321,"label":"0.7"},{"total":352,"label":"0.9"},{"total":378,"label":"0.965"},{"total":407,"label":"0.99"},{"total":436,"label":"0.997"}],
 "nomo": [
  {"var":"Lung metastasis***","level":"No","pts":16.7,"freq":0.88,"side":"above","sel":true},
  {"var":"Lung metastasis***","level":"Yes","pts":77,"freq":0.004,"side":"below","sel":false},
  {"var":"Liver metastasis***","level":"No","pts":16.7,"freq":0.88,"side":"above","sel":true},
  {"var":"Liver metastasis***","level":"Yes","pts":80.6,"freq":0.004,"side":"below","sel":false},
  {"var":"Brain metastasis***","level":"No","pts":16.7,"freq":0.88,"side":"above","sel":true},
  {"var":"Brain metastasis***","level":"Yes","pts":82.3,"freq":0.004,"side":"below","sel":false},
  {"var":"N stage***","level":"N0","pts":16.7,"freq":0.88,"side":"above","sel":true},
  {"var":"N stage***","level":"N1","pts":44,"freq":0.05,"side":"below","sel":false},
  {"var":"T stage***","level":"T3","pts":0,"freq":0.19,"side":"above","sel":true},
  {"var":"T stage***","level":"T2","pts":15.5,"freq":0.8,"side":"below","sel":false},
  {"var":"T stage***","level":"T1","pts":16.7,"freq":0.88,"side":"above","sel":false},
  {"var":"T stage***","level":"T4","pts":40.5,"freq":0.03,"side":"below","sel":false},
  {"var":"ISUP****","level":"1","pts":16.7,"freq":0.88,"side":"above","sel":false},
  {"var":"ISUP****","level":"2","pts":41,"freq":0.59,"side":"below","sel":false},
  {"var":"ISUP****","level":"3","pts":64,"freq":0.3,"side":"above","sel":false},
  {"var":"ISUP****","level":"4","pts":81.6,"freq":0.24,"side":"below","sel":false},
  {"var":"ISUP****","level":"5","pts":100,"freq":0.19,"side":"above","sel":true},
  {"var":"PSA***","level":"<10","pts":16.7,"freq":0.88,"side":"above","sel":false},
  {"var":"PSA***","level":"10–20","pts":40.5,"freq":0.19,"side":"below","sel":false},
  {"var":"PSA***","level":">20","pts":82.6,"freq":0.11,"side":"above","sel":true},
  {"var":"Age***","level":"Young","pts":16.7,"freq":0.88,"side":"above","sel":true},
  {"var":"Age***","level":"Elderly","pts":23,"freq":0.11,"side":"below","sel":false}
 ],
 "dens": [
  {"total":118,"dens":0},{"total":125,"dens":0.02},{"total":130,"dens":0.2},{"total":133,"dens":0.5},{"total":137,"dens":0.68},{"total":141,"dens":0.5},{"total":145,"dens":0.15},{"total":149,"dens":0.05},{"total":153,"dens":0.2},{"total":157,"dens":0.42},{"total":161,"dens":0.47},{"total":165,"dens":0.3},{"total":169,"dens":0.08},{"total":173,"dens":0.05},{"total":177,"dens":0.15},{"total":182,"dens":0.26},{"total":187,"dens":0.2},{"total":192,"dens":0.06},{"total":197,"dens":0.05},{"total":203,"dens":0.1},{"total":208,"dens":0.09},{"total":214,"dens":0.03},{"total":220,"dens":0.04},{"total":227,"dens":0.06},{"total":234,"dens":0.04},{"total":241,"dens":0.02},{"total":250,"dens":0.03},{"total":258,"dens":0.02},{"total":266,"dens":0.015},{"total":275,"dens":0.01},{"total":285,"dens":0.01},{"total":295,"dens":0.005},{"total":310,"dens":0}
 ],
 "pred": [{"total":268,"prob":"0.263"}],
 "roc": [
  {"set":"train","fpr":0,"tpr":0},{"set":"train","fpr":0.003,"tpr":0.25},{"set":"train","fpr":0.008,"tpr":0.5},{"set":"train","fpr":0.02,"tpr":0.68},{"set":"train","fpr":0.035,"tpr":0.76},{"set":"train","fpr":0.046,"tpr":0.79},{"set":"train","fpr":0.07,"tpr":0.83},{"set":"train","fpr":0.12,"tpr":0.88},{"set":"train","fpr":0.18,"tpr":0.915},{"set":"train","fpr":0.24,"tpr":0.94},{"set":"train","fpr":0.33,"tpr":0.958},{"set":"train","fpr":0.43,"tpr":0.97},{"set":"train","fpr":0.6,"tpr":0.98},{"set":"train","fpr":0.8,"tpr":0.99},{"set":"train","fpr":1,"tpr":1},
  {"set":"valid","fpr":0,"tpr":0},{"set":"valid","fpr":0.003,"tpr":0.35},{"set":"valid","fpr":0.007,"tpr":0.62},{"set":"valid","fpr":0.015,"tpr":0.7},{"set":"valid","fpr":0.03,"tpr":0.77},{"set":"valid","fpr":0.05,"tpr":0.82},{"set":"valid","fpr":0.085,"tpr":0.87},{"set":"valid","fpr":0.13,"tpr":0.91},{"set":"valid","fpr":0.22,"tpr":0.95},{"set":"valid","fpr":0.4,"tpr":0.962},{"set":"valid","fpr":0.62,"tpr":0.972},{"set":"valid","fpr":0.8,"tpr":0.985},{"set":"valid","fpr":1,"tpr":1}
 ],
 "auc": [{"set":"train","label":"AUC = 0.93"},{"set":"valid","label":"AUC = 0.948"}],
 "cal": [
  {"set":"train","pred":0,"obs":0},{"set":"train","pred":0.04,"obs":0.06},{"set":"train","pred":0.086,"obs":0.125},{"set":"train","pred":0.13,"obs":0.14},{"set":"train","pred":0.17,"obs":0.17},{"set":"train","pred":0.2,"obs":0.22},{"set":"train","pred":0.24,"obs":0.35},{"set":"train","pred":0.26,"obs":0.3},{"set":"train","pred":0.29,"obs":0.33},{"set":"train","pred":0.32,"obs":0.34},{"set":"train","pred":0.345,"obs":0.375},{"set":"train","pred":0.38,"obs":0.38},{"set":"train","pred":0.42,"obs":0.48},{"set":"train","pred":0.43,"obs":0.44},{"set":"train","pred":0.48,"obs":0.44},{"set":"train","pred":0.52,"obs":0.44},{"set":"train","pred":0.56,"obs":0.5},{"set":"train","pred":0.6,"obs":0.625},{"set":"train","pred":0.62,"obs":0.6},{"set":"train","pred":0.69,"obs":0.63},{"set":"train","pred":0.75,"obs":0.63},{"set":"train","pred":0.81,"obs":0.67},{"set":"train","pred":0.845,"obs":0.73},{"set":"train","pred":0.9,"obs":0.75},{"set":"train","pred":0.95,"obs":0.81},{"set":"train","pred":1,"obs":0.83},
  {"set":"valid","pred":0,"obs":0},{"set":"valid","pred":0.06,"obs":0.05},{"set":"valid","pred":0.11,"obs":0.1},{"set":"valid","pred":0.15,"obs":0.17},{"set":"valid","pred":0.18,"obs":0.24},{"set":"valid","pred":0.22,"obs":0.28},{"set":"valid","pred":0.25,"obs":0.33},{"set":"valid","pred":0.27,"obs":0.42},{"set":"valid","pred":0.29,"obs":0.52},{"set":"valid","pred":0.3,"obs":0.3},{"set":"valid","pred":0.32,"obs":0.38},{"set":"valid","pred":0.34,"obs":0.46},{"set":"valid","pred":0.36,"obs":0.18},{"set":"valid","pred":0.37,"obs":0.41},{"set":"valid","pred":0.4,"obs":0.4},{"set":"valid","pred":0.43,"obs":0.39},{"set":"valid","pred":0.5,"obs":0.43},{"set":"valid","pred":0.53,"obs":0.58},{"set":"valid","pred":0.55,"obs":0.45},{"set":"valid","pred":0.6,"obs":0.64},{"set":"valid","pred":0.7,"obs":0.68},{"set":"valid","pred":0.77,"obs":0.75},{"set":"valid","pred":0.83,"obs":0.74},{"set":"valid","pred":0.88,"obs":0.75},{"set":"valid","pred":0.91,"obs":0.83},{"set":"valid","pred":0.96,"obs":0.86},{"set":"valid","pred":1,"obs":0.89}
 ],
 "rug": [
  {"set":"train","pred":0.01},{"set":"train","pred":0.02},{"set":"train","pred":0.03},{"set":"train","pred":0.04},{"set":"train","pred":0.05},{"set":"train","pred":0.06},{"set":"train","pred":0.07},{"set":"train","pred":0.08},{"set":"train","pred":0.09},{"set":"train","pred":0.1},{"set":"train","pred":0.11},{"set":"train","pred":0.12},{"set":"train","pred":0.14},{"set":"train","pred":0.16},{"set":"train","pred":0.18},{"set":"train","pred":0.2},{"set":"train","pred":0.22},{"set":"train","pred":0.24},{"set":"train","pred":0.26},{"set":"train","pred":0.28},{"set":"train","pred":0.3},{"set":"train","pred":0.32},{"set":"train","pred":0.34},{"set":"train","pred":0.37},{"set":"train","pred":0.4},{"set":"train","pred":0.42},{"set":"train","pred":0.44},{"set":"train","pred":0.47},{"set":"train","pred":0.5},{"set":"train","pred":0.53},{"set":"train","pred":0.56},{"set":"train","pred":0.6},{"set":"train","pred":0.62},{"set":"train","pred":0.65},{"set":"train","pred":0.68},{"set":"train","pred":0.71},{"set":"train","pred":0.74},{"set":"train","pred":0.77},{"set":"train","pred":0.8},{"set":"train","pred":0.83},{"set":"train","pred":0.86},{"set":"train","pred":0.89},{"set":"train","pred":0.92},{"set":"train","pred":0.95},{"set":"train","pred":0.97},{"set":"train","pred":0.99},
  {"set":"valid","pred":0.01},{"set":"valid","pred":0.02},{"set":"valid","pred":0.03},{"set":"valid","pred":0.04},{"set":"valid","pred":0.05},{"set":"valid","pred":0.06},{"set":"valid","pred":0.07},{"set":"valid","pred":0.08},{"set":"valid","pred":0.09},{"set":"valid","pred":0.1},{"set":"valid","pred":0.11},{"set":"valid","pred":0.12},{"set":"valid","pred":0.13},{"set":"valid","pred":0.14},{"set":"valid","pred":0.16},{"set":"valid","pred":0.18},{"set":"valid","pred":0.21},{"set":"valid","pred":0.24},{"set":"valid","pred":0.26},{"set":"valid","pred":0.3},{"set":"valid","pred":0.33},{"set":"valid","pred":0.36},{"set":"valid","pred":0.38},{"set":"valid","pred":0.52},{"set":"valid","pred":0.54},{"set":"valid","pred":0.56},{"set":"valid","pred":0.58},{"set":"valid","pred":0.63},{"set":"valid","pred":0.66},{"set":"valid","pred":0.69},{"set":"valid","pred":0.78},{"set":"valid","pred":0.8},{"set":"valid","pred":0.82},{"set":"valid","pred":0.84},{"set":"valid","pred":0.86},{"set":"valid","pred":0.88},{"set":"valid","pred":0.9},{"set":"valid","pred":0.92},{"set":"valid","pred":0.94},{"set":"valid","pred":0.96},{"set":"valid","pred":0.98},{"set":"valid","pred":0.99}
 ],
 "dca": [
  {"set":"train","curve":"None","thr":0,"nb":0},{"set":"train","curve":"None","thr":0.716,"nb":0},
  {"set":"train","curve":"All","thr":0,"nb":0.031},{"set":"train","curve":"All","thr":0.01,"nb":0.018},{"set":"train","curve":"All","thr":0.02,"nb":0.005},{"set":"train","curve":"All","thr":0.03,"nb":-0.008},{"set":"train","curve":"All","thr":0.04,"nb":-0.021},
  {"set":"train","curve":"Nomogram","thr":0,"nb":0.031},{"set":"train","curve":"Nomogram","thr":0.005,"nb":0.029},{"set":"train","curve":"Nomogram","thr":0.01,"nb":0.027},{"set":"train","curve":"Nomogram","thr":0.02,"nb":0.025},{"set":"train","curve":"Nomogram","thr":0.04,"nb":0.023},{"set":"train","curve":"Nomogram","thr":0.06,"nb":0.0215},{"set":"train","curve":"Nomogram","thr":0.09,"nb":0.0195},{"set":"train","curve":"Nomogram","thr":0.12,"nb":0.018},{"set":"train","curve":"Nomogram","thr":0.15,"nb":0.0165},{"set":"train","curve":"Nomogram","thr":0.185,"nb":0.015},{"set":"train","curve":"Nomogram","thr":0.22,"nb":0.0135},{"set":"train","curve":"Nomogram","thr":0.25,"nb":0.0122},{"set":"train","curve":"Nomogram","thr":0.28,"nb":0.011},{"set":"train","curve":"Nomogram","thr":0.31,"nb":0.0095},{"set":"train","curve":"Nomogram","thr":0.34,"nb":0.008},{"set":"train","curve":"Nomogram","thr":0.375,"nb":0.0068},{"set":"train","curve":"Nomogram","thr":0.42,"nb":0.005},{"set":"train","curve":"Nomogram","thr":0.47,"nb":0.0038},{"set":"train","curve":"Nomogram","thr":0.52,"nb":0.0028},{"set":"train","curve":"Nomogram","thr":0.56,"nb":0.0021},{"set":"train","curve":"Nomogram","thr":0.58,"nb":0.0016},{"set":"train","curve":"Nomogram","thr":0.59,"nb":0.0022},{"set":"train","curve":"Nomogram","thr":0.62,"nb":0.0017},{"set":"train","curve":"Nomogram","thr":0.66,"nb":0.0012},{"set":"train","curve":"Nomogram","thr":0.716,"nb":0.0009},
  {"set":"valid","curve":"None","thr":0,"nb":0},{"set":"valid","curve":"None","thr":0.716,"nb":0},
  {"set":"valid","curve":"All","thr":0,"nb":0.031},{"set":"valid","curve":"All","thr":0.01,"nb":0.0195},{"set":"valid","curve":"All","thr":0.02,"nb":0.008},{"set":"valid","curve":"All","thr":0.03,"nb":-0.0035},{"set":"valid","curve":"All","thr":0.04,"nb":-0.015},
  {"set":"valid","curve":"Nomogram","thr":0,"nb":0.031},{"set":"valid","curve":"Nomogram","thr":0.005,"nb":0.029},{"set":"valid","curve":"Nomogram","thr":0.01,"nb":0.027},{"set":"valid","curve":"Nomogram","thr":0.02,"nb":0.025},{"set":"valid","curve":"Nomogram","thr":0.04,"nb":0.0225},{"set":"valid","curve":"Nomogram","thr":0.066,"nb":0.0205},{"set":"valid","curve":"Nomogram","thr":0.1,"nb":0.018},{"set":"valid","curve":"Nomogram","thr":0.137,"nb":0.0164},{"set":"valid","curve":"Nomogram","thr":0.18,"nb":0.0145},{"set":"valid","curve":"Nomogram","thr":0.23,"nb":0.0123},{"set":"valid","curve":"Nomogram","thr":0.28,"nb":0.0102},{"set":"valid","curve":"Nomogram","thr":0.325,"nb":0.0082},{"set":"valid","curve":"Nomogram","thr":0.34,"nb":0.006},{"set":"valid","curve":"Nomogram","thr":0.37,"nb":0.0051},{"set":"valid","curve":"Nomogram","thr":0.42,"nb":0.0045},{"set":"valid","curve":"Nomogram","thr":0.47,"nb":0.0037},{"set":"valid","curve":"Nomogram","thr":0.52,"nb":0.0029},{"set":"valid","curve":"Nomogram","thr":0.55,"nb":0.0021},{"set":"valid","curve":"Nomogram","thr":0.56,"nb":0.0019},{"set":"valid","curve":"Nomogram","thr":0.57,"nb":0.0032},{"set":"valid","curve":"Nomogram","thr":0.6,"nb":0.0026},{"set":"valid","curve":"Nomogram","thr":0.65,"nb":0.0022},{"set":"valid","curve":"Nomogram","thr":0.716,"nb":0.0018}
 ]
},
"config": {
 "font": "Liberation Serif",
 "view": {"stroke": null},
 "axis": {"grid": false, "labelOverlap": false, "labelFlush": false, "domainColor": "#444", "tickColor": "#444", "labelColor": "#222", "titleColor": "#222", "titleFontWeight": "normal", "domainWidth": 0.8, "tickWidth": 0.8},
 "title": {"font": "Liberation Sans", "fontWeight": "bold", "fontSize": 12, "anchor": "start", "color": "#000", "offset": 2},
 "legend": {"labelFont": "Liberation Serif"}
}
}
